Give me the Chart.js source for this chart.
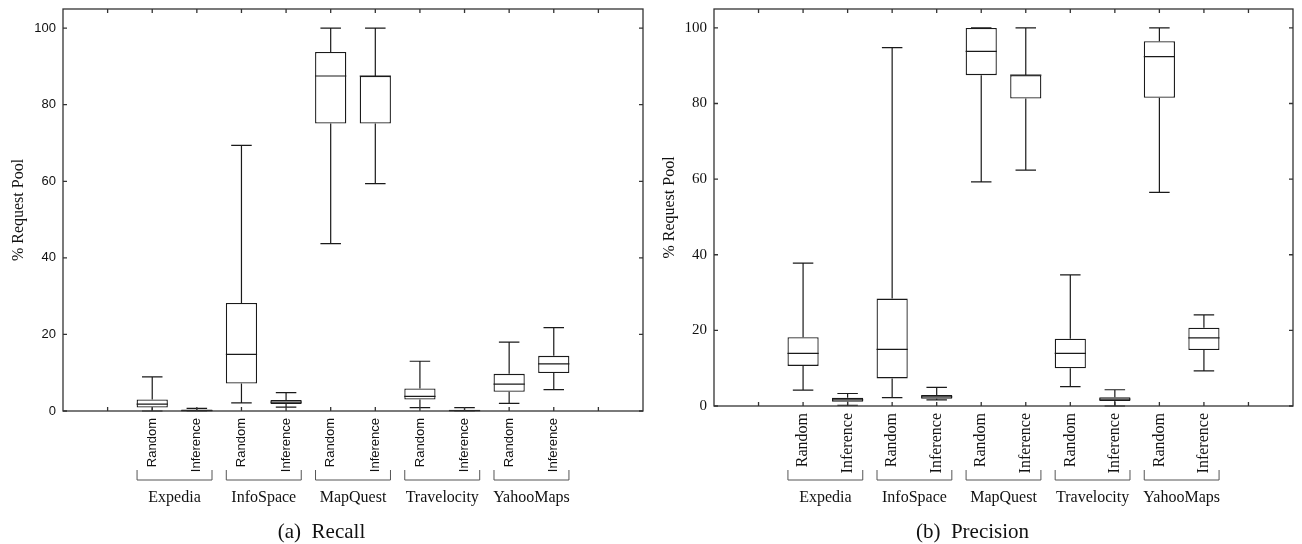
<!DOCTYPE html>
<html>
<head>
<meta charset="utf-8">
<script src="https://cdn.jsdelivr.net/npm/chart.js@4.4.1/dist/chart.umd.min.js"></script>
<style>
    body { margin: 0; background: #fff; }
    .panel { position: absolute; top: 0; width: 651px; height: 544px; }
</style>
</head>
<body>
<div class="panel" style="left:0"><canvas id="recallChart"></canvas></div>
<div class="panel" style="left:651px"><canvas id="precisionChart"></canvas></div>
<script>
//! ==================== Data ====================
const sites = ["Expedia", "InfoSpace", "MapQuest", "Travelocity", "YahooMaps"];
const methods = ["Random", "Inference"];
const yTicks = [0, 20, 40, 60, 80, 100];

// order: Expedia R, Expedia I, InfoSpace R, InfoSpace I, MapQuest R, MapQuest I, Travelocity R, Travelocity I, YahooMaps R, YahooMaps I
const recallLow  = [0,   0,   2.1,  1.0, 43.7, 59.4, 0.9, 0,   2.0,  5.6];
const recallQ1   = [0.9, 0,   7.2,  1.8, 75.1, 75.1, 3.0, 0,   5.0,  9.9];
const recallMed  = [1.8, 0.1, 14.8, 2.3, 87.5, 87.5, 3.8, 0.1, 7.0,  12.3];
const recallQ3   = [3.0, 0.4, 28.2, 2.9, 93.8, 87.5, 5.9, 0.3, 9.7,  14.4];
const recallHigh = [8.9, 0.7, 69.4, 4.8, 100,  100,  13.0, 0.9, 18.0, 21.8];

const precisionLow  = [4.2,  0.2, 2.2,  1.6, 59.3, 62.4, 5.1,  0,   56.5, 9.3];
const precisionQ1   = [10.6, 1.1, 7.3,  1.9, 87.5, 81.3, 10.0, 1.3, 81.5, 14.8];
const precisionMed  = [13.9, 1.6, 15.0, 2.4, 93.8, 87.5, 13.9, 1.8, 92.4, 18.0];
const precisionQ3   = [18.2, 2.2, 28.4, 2.9, 100,  87.5, 17.8, 2.3, 96.5, 20.7];
const precisionHigh = [37.8, 3.3, 94.8, 4.9, 100,  100,  34.7, 4.3, 100,  24.1];

// box i sits on x = i + FIRST, axis runs 0..13
const FIRST = 2;
const boxLabels = sites.flatMap(() => methods);
const xMax = boxLabels.length + FIRST + 1;

const SERIF = "'Liberation Serif', 'Times New Roman', serif";
const SANS = "'Liberation Sans', Arial, sans-serif";
const INK = "#1a1a1a";

//! ==================== Plugins ====================
// whiskers, caps and median on top of the floating bars
const boxPlot = {
    id: "boxPlot",
    afterDatasetsDraw(chart, args, opts) {
        const { ctx, scales: { x, y } } = chart;
        const step = x.getPixelForValue(1) - x.getPixelForValue(0);
        const cap = step * 0.23;
        const half = step * 0.35;
        ctx.save();
        ctx.strokeStyle = INK;
        ctx.lineWidth = 1.2;
        opts.low.forEach((lo, i) => {
            const px = x.getPixelForValue(i + FIRST);
            const pLo = y.getPixelForValue(lo);
            const pQ1 = y.getPixelForValue(opts.q1[i]);
            const pQ3 = y.getPixelForValue(opts.q3[i]);
            const pHi = y.getPixelForValue(opts.high[i]);
            const pMed = y.getPixelForValue(opts.med[i]);
            ctx.beginPath();
            ctx.moveTo(px, pQ3); ctx.lineTo(px, pHi);
            ctx.moveTo(px - cap, pHi); ctx.lineTo(px + cap, pHi);
            ctx.moveTo(px, pQ1); ctx.lineTo(px, pLo);
            ctx.moveTo(px - cap, pLo); ctx.lineTo(px + cap, pLo);
            ctx.moveTo(px - half, pMed); ctx.lineTo(px + half, pMed);
            ctx.stroke();
        });
        ctx.restore();
    }
};

// frame with inward ticks on all four sides
const frame = {
    id: "frame",
    afterDraw(chart) {
        const { ctx, chartArea: a, scales: { x, y } } = chart;
        const len = 4;
        ctx.save();
        ctx.strokeStyle = "#333";
        ctx.lineWidth = 1.3;
        ctx.strokeRect(a.left, a.top, a.right - a.left, a.bottom - a.top);
        ctx.beginPath();
        x.ticks.forEach(t => {
            if (t.value <= 0 || t.value >= xMax) return;
            const px = x.getPixelForValue(t.value);
            ctx.moveTo(px, a.bottom); ctx.lineTo(px, a.bottom - len);
            ctx.moveTo(px, a.top); ctx.lineTo(px, a.top + len);
        });
        y.ticks.forEach(t => {
            const py = y.getPixelForValue(t.value);
            ctx.moveTo(a.left, py); ctx.lineTo(a.left + len, py);
            ctx.moveTo(a.right, py); ctx.lineTo(a.right - len, py);
        });
        ctx.stroke();
        ctx.restore();
    }
};

// site brackets, site names and the caption under the axis
const groups = {
    id: "groups",
    afterDraw(chart, args, opts) {
        const { ctx, scales: { x } } = chart;
        const step = x.getPixelForValue(1) - x.getPixelForValue(0);
        ctx.save();
        ctx.strokeStyle = "#555";
        ctx.lineWidth = 1;
        ctx.fillStyle = "#111";
        ctx.textAlign = "center";
        ctx.textBaseline = "middle";
        ctx.font = "16px " + SERIF;
        sites.forEach((s, g) => {
            const x1 = x.getPixelForValue(FIRST + g * 2) - step * 0.34;
            const x2 = x.getPixelForValue(FIRST + g * 2 + 1) + step * 0.34;
            ctx.beginPath();
            ctx.moveTo(x1, opts.bracketY - 10);
            ctx.lineTo(x1, opts.bracketY);
            ctx.lineTo(x2, opts.bracketY);
            ctx.lineTo(x2, opts.bracketY - 10);
            ctx.stroke();
            ctx.fillText(s, (x1 + x2) / 2, opts.bracketY + 18);
        });
        ctx.font = "21px " + SERIF;
        ctx.fillText(opts.caption, chart.width / 2 - 4, opts.captionY);
        ctx.restore();
    }
};

// keep tick labels from pushing the plot frame around
function noPadding(scale) {
    scale.paddingTop = 0;
    scale.paddingBottom = 0;
    scale.paddingLeft = 0;
    scale.paddingRight = 0;
}

//! ==================== Charts ====================
function makeChart(id, low, q1, med, q3, high, look) {
    return new Chart(document.getElementById(id), {
        type: "bar",
        data: {
            datasets: [{
                data: q1.map((v, i) => ({ x: i + FIRST, y: [v, q3[i]] })),
                backgroundColor: "#fff",
                borderColor: INK,
                borderWidth: 1.3,
                borderSkipped: false,
                barPercentage: 0.7,
                categoryPercentage: 1
            }]
        },
        options: {
            animation: false,
            responsive: true,
            maintainAspectRatio: false,
            layout: { padding: { top: 9, right: look.right, left: 0, bottom: 0 } },
            plugins: {
                legend: { display: false },
                tooltip: { enabled: false },
                boxPlot: { low, q1, med, q3, high },
                groups: { caption: look.caption, bracketY: 480, captionY: 532 }
            },
            scales: {
                x: {
                    type: "linear",
                    min: 0,
                    max: xMax,
                    offset: false,
                    grid: { display: false, drawTicks: false },
                    border: { display: false },
                    afterFit(scale) {
                        scale.height = look.xHeight;
                        noPadding(scale);
                    },
                    afterBuildTicks(scale) {
                        scale.ticks = scale.ticks.filter(t => Number.isInteger(t.value));
                    },
                    ticks: {
                        stepSize: 1,
                        autoSkip: false,
                        minRotation: 90,
                        maxRotation: 90,
                        padding: 7,
                        color: "#111",
                        font: { family: look.tickFont, size: look.xSize },
                        callback: v => boxLabels[v - FIRST] || ""
                    }
                },
                y: {
                    min: 0,
                    max: 105,
                    grid: { display: false, drawTicks: false },
                    border: { display: false },
                    afterFit(scale) {
                        scale.width = 63;
                        noPadding(scale);
                    },
                    afterBuildTicks(scale) {
                        scale.ticks = yTicks.map(v => ({ value: v }));
                    },
                    ticks: {
                        padding: 7,
                        color: "#111",
                        font: { family: look.tickFont, size: look.ySize }
                    },
                    title: {
                        display: true,
                        text: "% Request Pool",
                        color: "#111",
                        font: { family: SERIF, size: 16 },
                        padding: { top: 9, bottom: 0 }
                    }
                }
            }
        },
        plugins: [boxPlot, frame, groups]
    });
}

makeChart("recallChart", recallLow, recallQ1, recallMed, recallQ3, recallHigh, {
    caption: "(a)  Recall", right: 8, xHeight: 133,
    tickFont: SANS, xSize: 13, ySize: 13
});

makeChart("precisionChart", precisionLow, precisionQ1, precisionMed, precisionQ3, precisionHigh, {
    caption: "(b)  Precision", right: 9, xHeight: 138,
    tickFont: SERIF, xSize: 16, ySize: 15
});
</script>
</body>
</html>
